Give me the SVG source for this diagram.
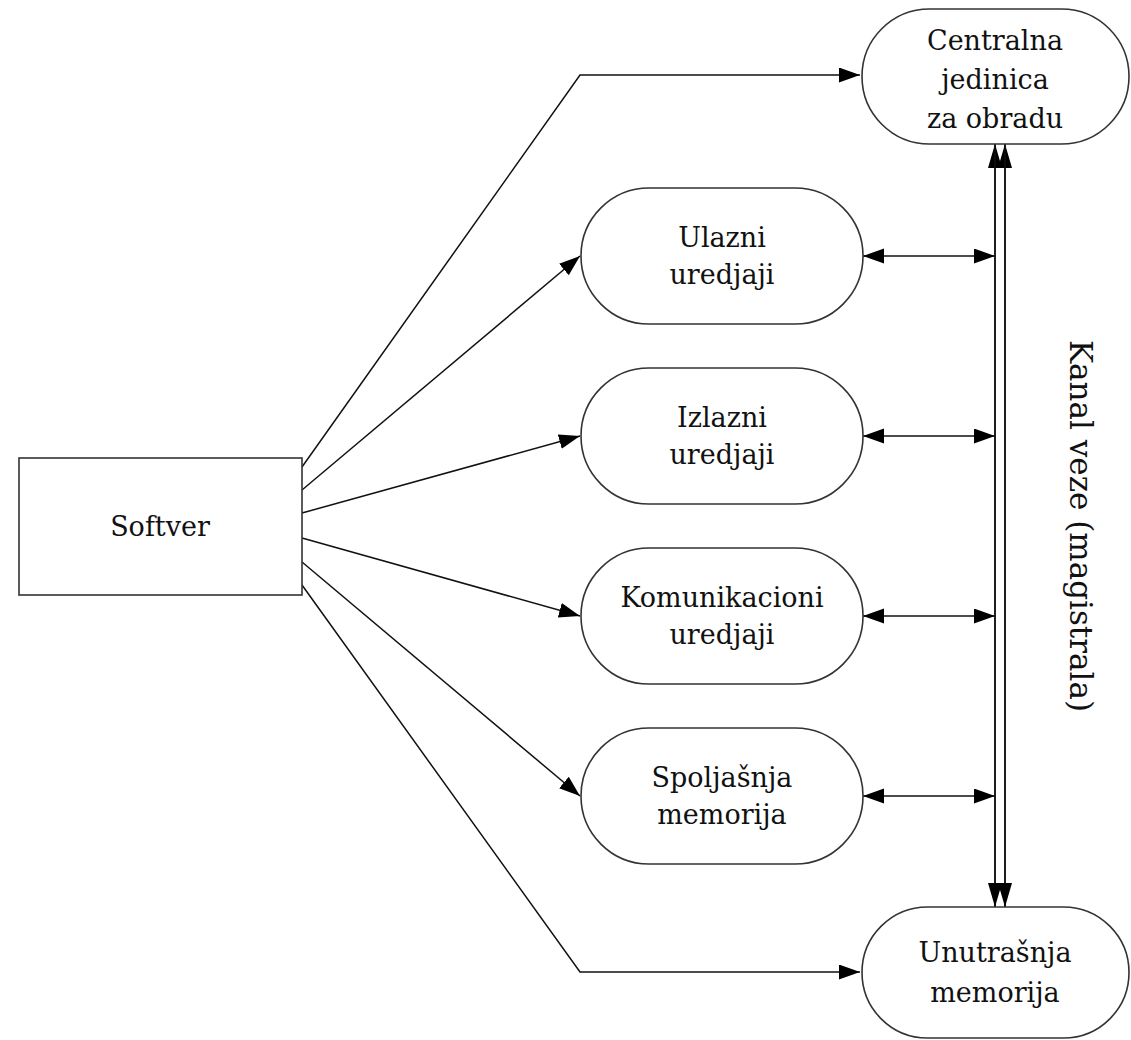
<svg xmlns="http://www.w3.org/2000/svg" width="1131" height="1040" viewBox="0 0 1131 1040">
<style>
.node{fill:#fff;stroke:#333;stroke-width:1.6}
.lbl{font-family:"DejaVu Serif","Liberation Serif",serif;font-size:27px;fill:#111;text-anchor:middle}
.c{fill:none;stroke:#111;stroke-width:1.5}
</style>
<defs>
<marker id="ah" markerUnits="userSpaceOnUse" markerWidth="22" markerHeight="16" refX="21" refY="7.5" orient="auto-start-reverse" viewBox="0 0 22 16">
<path d="M0,0 L21,7.5 L0,15 z" fill="#000"/>
</marker>
<marker id="bh" markerUnits="userSpaceOnUse" markerWidth="26" markerHeight="14" refX="24" refY="7" orient="auto" viewBox="0 0 26 14">
<path d="M0,0 L24,7 L0,14 z" fill="#000"/>
</marker>
</defs>
<rect width="1131" height="1040" fill="#fff"/>
<g id="connectors">
<polyline class="c" points="302,467 580,75 860,75" marker-end="url(#ah)"/>
<line class="c" x1="302" y1="490" x2="580" y2="256" marker-end="url(#ah)"/>
<line class="c" x1="302" y1="513" x2="580" y2="436" marker-end="url(#ah)"/>
<line class="c" x1="302" y1="538" x2="580" y2="616" marker-end="url(#ah)"/>
<line class="c" x1="302" y1="562" x2="580" y2="796" marker-end="url(#ah)"/>
<polyline class="c" points="302,585 580,972 860,972" marker-end="url(#ah)"/>
<line class="c" x1="863" y1="256" x2="995" y2="256" marker-start="url(#ah)" marker-end="url(#ah)"/>
<line class="c" x1="863" y1="436" x2="995" y2="436" marker-start="url(#ah)" marker-end="url(#ah)"/>
<line class="c" x1="863" y1="616" x2="995" y2="616" marker-start="url(#ah)" marker-end="url(#ah)"/>
<line class="c" x1="863" y1="796" x2="995" y2="796" marker-start="url(#ah)" marker-end="url(#ah)"/>
<line class="c" x1="995" y1="907" x2="995" y2="144" marker-end="url(#bh)"/>
<line class="c" x1="1005" y1="907" x2="1005" y2="144" marker-end="url(#bh)"/>
<line class="c" x1="995" y1="144" x2="995" y2="907" marker-end="url(#bh)"/>
<line class="c" x1="1005" y1="144" x2="1005" y2="907" marker-end="url(#bh)"/>
</g>
<g id="softver">
<rect class="node" x="19" y="458" width="283" height="137"/>
<text class="lbl" x="160" y="536">Softver</text>
</g>
<g id="cpu">
<rect class="node" x="862" y="9" width="267" height="135" rx="67.5"/>
<text class="lbl" x="995" y="50">Centralna</text>
<text class="lbl" x="995" y="89">jedinica</text>
<text class="lbl" x="995" y="128">za obradu</text>
</g>
<g id="ulazni">
<rect class="node" x="581" y="188" width="282" height="136" rx="68"/>
<text class="lbl" x="722" y="247">Ulazni</text>
<text class="lbl" x="722" y="284">uredjaji</text>
</g>
<g id="izlazni">
<rect class="node" x="581" y="368" width="282" height="136" rx="68"/>
<text class="lbl" x="722" y="427">Izlazni</text>
<text class="lbl" x="722" y="464">uredjaji</text>
</g>
<g id="komunikacioni">
<rect class="node" x="581" y="548" width="282" height="136" rx="68"/>
<text class="lbl" x="722" y="607">Komunikacioni</text>
<text class="lbl" x="722" y="644">uredjaji</text>
</g>
<g id="spoljasnja">
<rect class="node" x="581" y="728" width="282" height="136" rx="68"/>
<text class="lbl" x="722" y="787">Spoljašnja</text>
<text class="lbl" x="722" y="824">memorija</text>
</g>
<g id="unutrasnja">
<rect class="node" x="862" y="907" width="267" height="131" rx="65.5"/>
<text class="lbl" x="995" y="962">Unutrašnja</text>
<text class="lbl" x="995" y="1002">memorija</text>
</g>
<g id="bus-label">
<text class="lbl" transform="translate(1070,526) rotate(90)" style="font-size:31px">Kanal veze (magistrala)</text>
</g>
</svg>
